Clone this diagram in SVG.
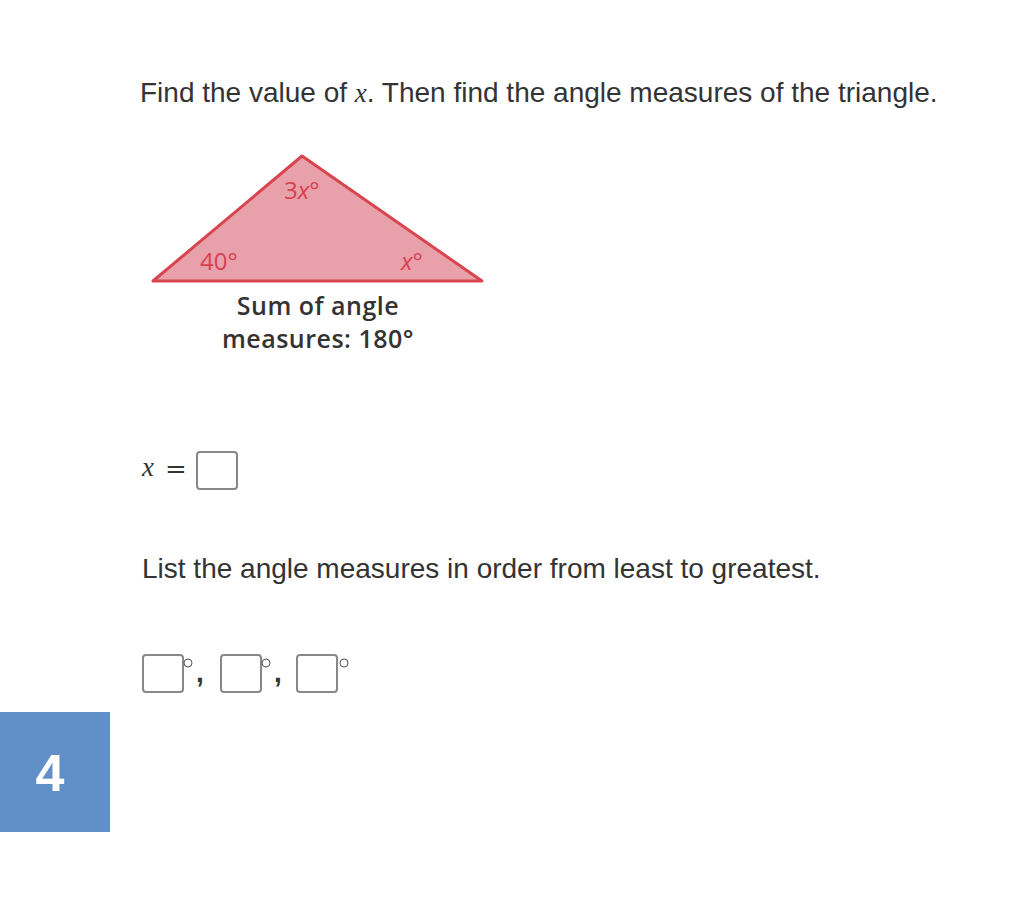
<svg xmlns="http://www.w3.org/2000/svg" width="1012" height="908" viewBox="0 0 1012 908">
<style>
.q{font-family:"Liberation Sans",Arial,sans-serif;font-size:28px;fill:#333}
.m{font-family:"Liberation Serif","DejaVu Serif",serif;font-style:italic;font-size:27px;fill:#333}
.lbl{font-family:"Open Sans","Noto Sans",sans-serif;font-size:24px;fill:#d9404f}
.cap{font-family:"Open Sans","Noto Sans",sans-serif;font-size:25px;letter-spacing:0.5px;font-weight:600;fill:#333}
.box{fill:#fff;stroke:#888;stroke-width:2}
.deg{fill:none;stroke:#555;stroke-width:1}
</style>
<rect width="1012" height="908" fill="#fff"/>
<g id="question">
<text class="q" x="140" y="102">Find the value of <tspan class="m">x</tspan>. Then find the angle measures of the triangle.</text>
</g>
<g id="triangle">
<polygon points="153,281 302,156 482,281" fill="#e8a0ab" stroke="#d9454f" stroke-width="3" stroke-linejoin="round"/>
<text class="lbl" x="284" y="199">3<tspan font-style="italic">x</tspan>°</text>
<text class="lbl" x="200" y="270">40°</text>
<text class="lbl" x="401" y="270" font-style="italic">x°</text>
<text class="cap" x="318" y="315" text-anchor="middle">Sum of angle</text>
<text class="cap" x="318" y="348" text-anchor="middle">measures: 180°</text>
</g>
<g id="answer-x">
<text class="m" x="142" y="476">x</text>
<text x="165" y="478" font-family="DejaVu Serif,serif" font-size="26" fill="#333">=</text>
<rect class="box" x="197" y="452" width="40" height="37" rx="3"/>
</g>
<g id="list">
<text class="q" x="142" y="578">List the angle measures in order from least to greatest.</text>
</g>
<g id="answers">
<rect class="box" x="143" y="655" width="40" height="37" rx="3"/>
<circle class="deg" cx="188" cy="663" r="4"/>
<text class="q" x="196" y="682" font-size="20" font-weight="bold">,</text>
<rect class="box" x="221" y="655" width="40" height="37" rx="3"/>
<circle class="deg" cx="266" cy="663" r="4"/>
<text class="q" x="274" y="682" font-size="20" font-weight="bold">,</text>
<rect class="box" x="297" y="655" width="40" height="37" rx="3"/>
<circle class="deg" cx="344" cy="663" r="4"/>
</g>
<g id="badge">
<rect x="0" y="712" width="110" height="120" fill="#6190c9"/>
<text x="50" y="791" text-anchor="middle" font-family="Liberation Sans,Arial,sans-serif" font-weight="bold" font-size="52" fill="#fff">4</text>
</g>
</svg>
